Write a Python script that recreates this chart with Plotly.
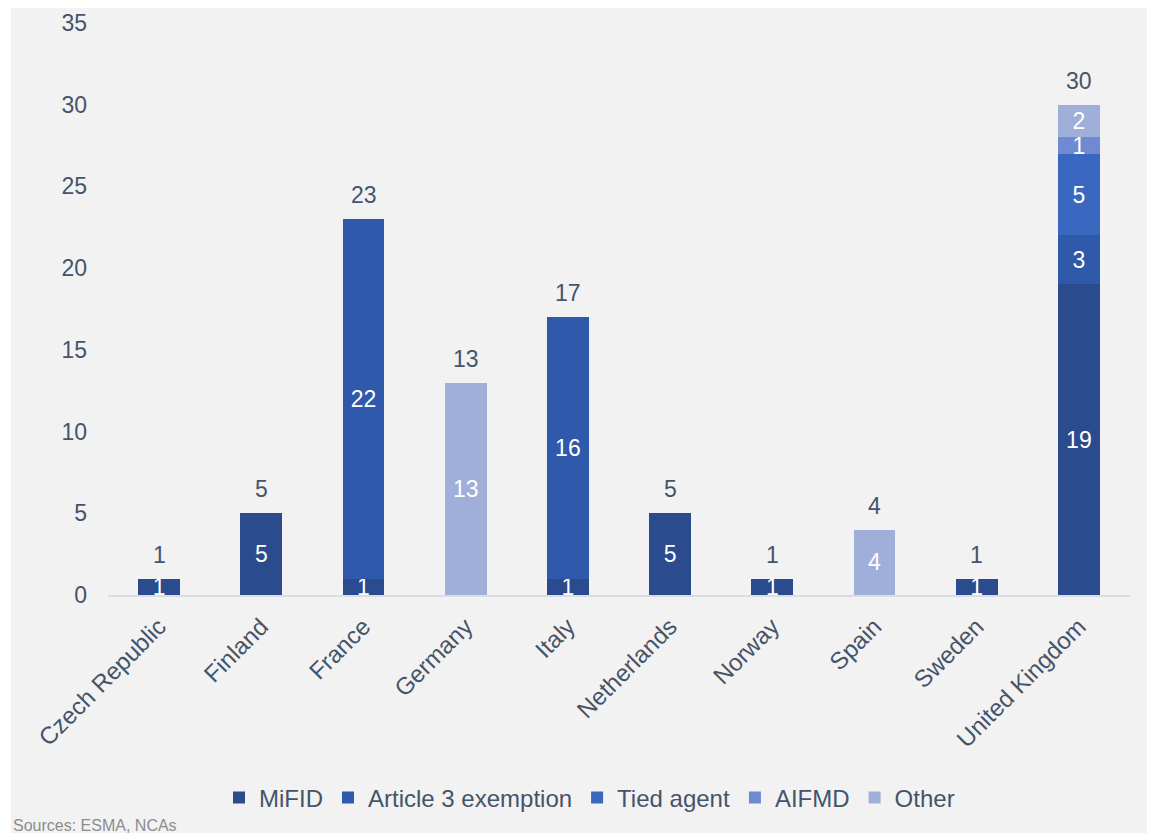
import plotly.graph_objects as go

countries = ["Czech Republic", "Finland", "France", "Germany", "Italy",
             "Netherlands", "Norway", "Spain", "Sweden", "United Kingdom"]
mifid = [1, 5, 1, 0, 1, 5, 1, 0, 1, 19]
article3 = [0, 0, 22, 0, 16, 0, 0, 0, 0, 3]
tied_agent = [0, 0, 0, 0, 0, 0, 0, 0, 0, 5]
aifmd = [0, 0, 0, 0, 0, 0, 0, 0, 0, 1]
other = [0, 0, 0, 13, 0, 0, 0, 4, 0, 2]

series = [
    ("MiFID", mifid, "#2a4b8d"),
    ("Article 3 exemption", article3, "#2f59aa"),
    ("Tied agent", tied_agent, "#3a67c0"),
    ("AIFMD", aifmd, "#6f8ad0"),
    ("Other", other, "#a0afda"),
]

# page body has an 8px margin; work in reference pixel coords minus 8
OFF = 8
W, H = 1155 - OFF, 833 - OFF
L, T = 108 - OFF, 23 - OFF
B = H - (595 - OFF)
R = W - (1130 - OFF)
plot_h = H - T - B
plot_w = W - L - R

FONT = "Liberation Sans, Arial"
TXT = "#44546a"

fig = go.Figure()
for name, vals, color in series:
    fig.add_trace(go.Bar(
        x=countries, y=vals, name=name,
        marker=dict(color=color, line=dict(width=0)),
        text=[str(v) if v else "" for v in vals],
        textposition="inside", insidetextanchor="middle", textangle=0,
        textfont=dict(color="white", size=23, family=FONT),
        hoverinfo="skip",
    ))

totals = [sum(s[1][i] for s in series) for i in range(len(countries))]
for c, t in zip(countries, totals):
    fig.add_annotation(x=c, y=t, text=str(t), showarrow=False,
                       yanchor="bottom", yshift=9,
                       font=dict(size=23, color=TXT, family=FONT))


def px_x(p):
    return (p - OFF - L) / plot_w


def px_y(p):
    return (H - B - (p - OFF)) / plot_h


fig.add_shape(type="rect", xref="paper", yref="paper",
              x0=px_x(11), x1=px_x(1160), y0=px_y(7), y1=px_y(840),
              fillcolor="#f2f2f2", line=dict(width=0), layer="below")

fig.add_annotation(xref="paper", yref="paper", x=px_x(11), y=px_y(826),
                   xanchor="left", yanchor="middle", showarrow=False,
                   text="Sources: ESMA, NCAs",
                   font=dict(size=16, color="#8c8c8c", family=FONT))

fig.update_layout(
    width=W, height=H,
    barmode="stack", bargap=0.59,
    paper_bgcolor="white", plot_bgcolor="#f2f2f2",
    margin=dict(l=L, r=R, t=T, b=B, autoexpand=False),
    uniformtext=dict(minsize=23, mode="show"),
    font=dict(family=FONT, color=TXT),
    legend=dict(orientation="h", x=px_x(219), xanchor="left",
                y=px_y(798), yanchor="middle",
                font=dict(size=24, color=TXT),
                bgcolor="rgba(0,0,0,0)", traceorder="normal",
                itemwidth=30),
    showlegend=True,
)
fig.update_xaxes(tickangle=-45, showline=True, linecolor="#d9dde3", linewidth=2,
                 showgrid=False, ticks="", zeroline=False, ticklabelstandoff=6,
                 tickfont=dict(size=24, color=TXT))
fig.update_yaxes(range=[0, 35], dtick=5, showgrid=False, zeroline=False,
                 showline=False, ticks="", ticklabelstandoff=20,
                 tickfont=dict(size=23, color=TXT))

fig.write_html("out.html")
